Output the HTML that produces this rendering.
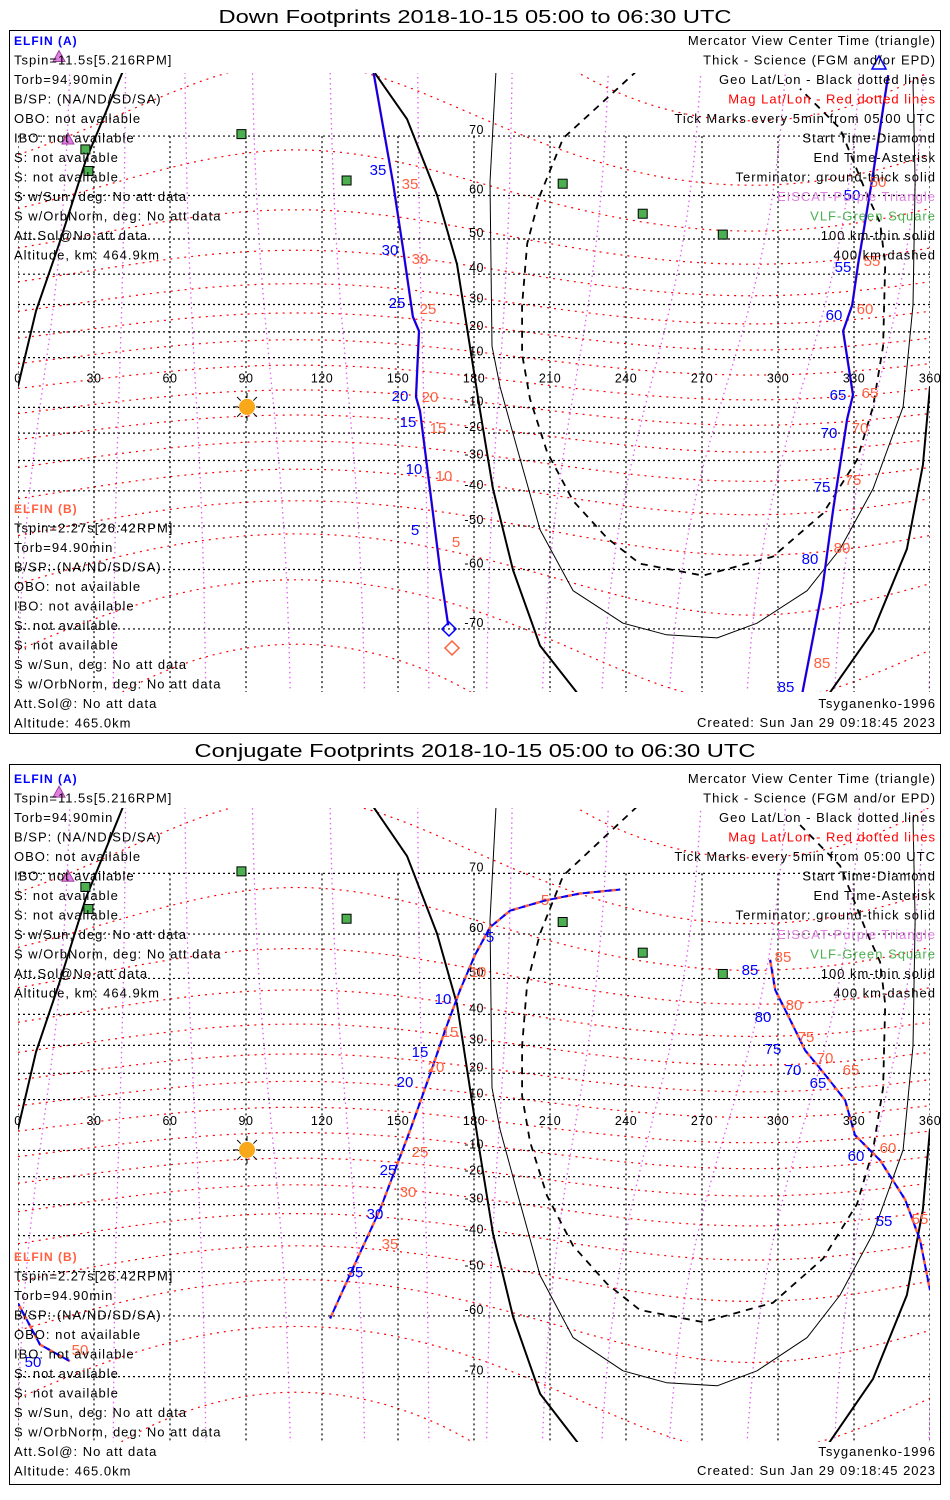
<!DOCTYPE html>
<html><head><meta charset="utf-8"><style>
html,body{margin:0;padding:0;background:#fff;width:950px;height:1500px;overflow:hidden}
svg{display:block}
text{font-family:"Liberation Sans",sans-serif}
.info{letter-spacing:1px}
</style></head><body>
<svg id="chart" width="950" height="1500" viewBox="0 0 950 1500" xmlns="http://www.w3.org/2000/svg">
</svg>
<script>
// ---------- data ----------
const latTicks = [-70,-60,-50,-40,-30,-20,-10,10,20,30,40,50,60,70];
const latTickLabels = ["-70","-60","-50","-40","-30","-20","-10","10","20","30","40","50","60","70"];
const lonTicks = [0,30,60,90,120,150,180,210,240,270,300,330,360];
const lonTickLabels = ["0","30","60","90","120","150","180","210","240","270","300","330","360"];

// Down footprint track (panel 1)
const downTrackLon1 = [140.2,148,152,155.9,158.3,157.1,158.7,162.6,166.6,169.8];
const downTrackLat1 = [77.3,62.6,47.3,25.6,20.3,-5.8,-11.4,-39.4,-60.1,-69.5];
const downTrackLon2 = [343.5,337.5,331.6,329.3,325.7,329.6,327.3,321.8,317.4,309.5];
const downTrackLat2 = [76.9,64,43,29.8,20.3,-5,-14.5,-45.4,-64,-77.3];

// Conjugate footprint track (panel 2)
const conjTrackLon1 = [123.2,131.9,142.9,154.8,162.6,168.6,174.5,180.4,186.3,194.2,208,221.9,237.7];
const conjTrackLat1 = [-60.5,-49.6,-31.7,-2,19.5,35,47,55.6,61.3,64.3,66,67.1,67.7];
const conjTrackLon2 = [296.9,298.9,304.8,310.7,318.6,326.5,330.4,340.3,350.2,356.1,360];
const conjTrackLat2 = [54.5,47,38.3,28.3,19.5,9.8,-4,-13.8,-28.3,-41.4,-54.5];
const conjTrackLon3 = [0,8.7,20.5];
const conjTrackLat3 = [-57.4,-65.2,-67.8];

// Terminators
const termGroundALon = [41.5,26.8,16.2,7.1,0];
const termGroundALat = [77.3,66.4,48.6,27.7,-1.5];
const termGroundBLon = [140.2,153.6,165.4,173.3,178.4,182.4,187.5,195.4,206.1,221.9];
const termGroundBLat = [77.3,72.2,60.1,43,14.5,-11.4,-39.4,-60.1,-72.2,-77.5];
const termGroundCLon = [319.4,337.5,350.9,357.2,360];
const termGroundCLat = [-77.5,-70.3,-55.6,-31.6,-1.5];
const term100Lon = [188.7,186.3,187.1,190.3,197,206.1,219.1,238.8,256,276,291.7,311.5,324.5,337.5,349.4,353.3,354.1,353.3];
const term100Lat = [77.3,62.6,14.5,-1.8,-25.6,-51,-64,-69.2,-70.8,-71.2,-69.2,-64,-55.6,-39.4,-9.8,29.8,62.6,76.4];
const term400Lon = [244.4,215.2,206.1,201,199,199,202.1,208.8,219.1,232.5,245.5,270.4,298,317.8,331.2,337.5,341.5,342.3,340.3,335.2,324.5,308.7];
const term400Lat = [77.3,69.7,60.1,48.8,29.8,11.4,-6.6,-26.9,-43,-53,-58.8,-61.2,-57.3,-46.6,-29.8,-9.8,14.5,43,54,60.1,71,75.6];

// Ground stations
const vlfLon = [88.4,26.8,28,129.9,215.2,246.8,278.4];
const vlfLat = [70.2,68,64.5,62.8,62.2,56,51];
const eiscatLon = [16.2,19.7];
const eiscatLat = [78.5,69.6];
const sunLon = [90.4];
const sunLat = [-9.8];

// ---------- drawing ----------
const NS="http://www.w3.org/2000/svg";
const svg=document.getElementById('chart');
function el(tag,attrs,parent){const e=document.createElementNS(NS,tag);for(const k in attrs)e.setAttribute(k,attrs[k]);(parent||svg).appendChild(e);return e;}
function X(lon){return 18+lon*912/360;}
function Y(p,lat){return p.eq - p.s*Math.log(Math.tan(Math.PI/4+lat*Math.PI/360));}
function pts(p,lons,lats){return lons.map((l,i)=>X(l).toFixed(1)+','+Y(p,lats[i]).toFixed(1)).join(' ');}
function txt(parent,x,y,s,opt){const t=el('text',Object.assign({x:x,y:y,'font-size':13,fill:'#000'},opt||{}),parent);t.textContent=s;return t;}

const panels=[
 {title:"Down Footprints 2018-10-15 05:00 to 06:30 UTC",ft:30,fb:733,eq:382.5,s:142,top:73,bot:692,off:0},
 {title:"Conjugate Footprints 2018-10-15 05:00 to 06:30 UTC",ft:764,fb:1484,eq:1125,s:145,top:808,bot:1442,off:738}
];

panels.forEach((p,pi)=>{
 const g=el('g',{});
 
 
 const tt=txt(g,475,p.ft-7,p.title,{'font-size':18,'text-anchor':'middle',textLength:pi===0?513:561,lengthAdjust:'spacingAndGlyphs'});
 
 
 const fr=el('rect',{x:9.5,y:p.ft+0.5,width:931,height:p.fb-p.ft,fill:'none',stroke:'#000','stroke-width':1},g);
 
 
 const cid='clip'+pi;
 const cp=el('clipPath',{id:cid},g);
 el('rect',{x:18,y:p.top,width:912,height:p.bot-p.top},cp);
 const m=el('g',{'clip-path':'url(#'+cid+')'},g);
 
 
 // magnetic longitude lines (violet dotted)
 for(let L=-20;L<=380;L+=30){
  const lons=[],lats=[];
  for(let la=-80;la<=80;la+=4){lons.push(L+0.2*la*Math.cos((L-290)*Math.PI/180)+0.1*la);lats.push(la);}
  const pl=el('polyline',{points:pts(p,lons,lats),fill:'none',stroke:'#e060f0','stroke-width':1.3,'stroke-dasharray':'1.5,3.5'},m);
  
  
 }
 // magnetic latitude lines (red dotted)
 for(let ml=-80;ml<=80;ml+=10){
  const lons=[],lats=[];
  const amp= Math.abs(ml)>=60?8:7;
  for(let lo=0;lo<=360;lo+=6){lons.push(lo);lats.push(ml-amp*Math.cos((lo-290)*Math.PI/180));}
  const pl=el('polyline',{points:pts(p,lons,lats),fill:'none',stroke:'#ff0000','stroke-width':1.2,'stroke-dasharray':'2,5'},m);
  
  
 }
 // geo grid
 latTicks.forEach((la,i)=>{
  const y=Y(p,la);
  const l=el('line',{x1:18,x2:930,y1:y,y2:y,stroke:'#000','stroke-width':1.2,'stroke-dasharray':'2,3'},m);
  
  
 });
 lonTicks.forEach((lo,i)=>{
  const x=X(lo);
  const l=el('line',{x1:x,x2:x,y1:Y(p,70),y2:p.bot,stroke:'#000','stroke-width':1.2,'stroke-dasharray':'2,3'},m);
  
  
 });
 // terminators
 [[termGroundALon,termGroundALat],[termGroundBLon,termGroundBLat],[termGroundCLon,termGroundCLat]].forEach(a=>{
  const pl=el('polyline',{points:pts(p,a[0],a[1]),fill:'none',stroke:'#000','stroke-width':2,'stroke-linejoin':'round'},m);
  
  
 });
 let pl=el('polyline',{points:pts(p,term100Lon,term100Lat),fill:'none',stroke:'#000','stroke-width':1,'stroke-linejoin':'round'},m);
 
 
 pl=el('polyline',{points:pts(p,term400Lon,term400Lat),fill:'none',stroke:'#000','stroke-width':1.8,'stroke-dasharray':'7,6','stroke-linejoin':'round'},m);
 
 
 // stations
 vlfLon.forEach((lo,i)=>{
  const r=el('rect',{x:X(lo)-5,y:Y(p,vlfLat[i])-5,width:9,height:9,fill:'#4caf50',stroke:'#000','stroke-width':1},m);
  
  
 });
 eiscatLon.forEach((lo,i)=>{
  const x=X(lo),y=Y(p,eiscatLat[i]);
  const t=el('polygon',{points:`${x-6},${y+5} ${x+6},${y+5} ${x},${y-6}`,fill:'#e080e0',stroke:'#a040a0','stroke-width':1},g);
  
  
 });
 // sun
 const sx=X(sunLon[0]),sy=Y(p,sunLat[0]);
 const sg=el('g',{},m);
 
 
 for(let a=0;a<360;a+=45){const r=a*Math.PI/180;el('line',{x1:sx+9*Math.cos(r),y1:sy+9*Math.sin(r),x2:sx+14*Math.cos(r),y2:sy+14*Math.sin(r),stroke:'#000','stroke-width':1},sg);}
 el('circle',{cx:sx,cy:sy,r:8,fill:'#f8a818'},sg);
 // tracks
 const tracks = pi===0 ? [[downTrackLon1,downTrackLat1],[downTrackLon2,downTrackLat2]] : [[conjTrackLon1,conjTrackLat1],[conjTrackLon2,conjTrackLat2],[conjTrackLon3,conjTrackLat3]];
 tracks.forEach(a=>{
  const r=el('polyline',{points:pts(p,a[0],a[1]),fill:'none',stroke:'#ff6040','stroke-width':2.5,'stroke-dasharray':pi===0?'none':'7,4'},m);
  
  
  const b=el('polyline',{points:pts(p,a[0],a[1]),fill:'none',stroke:'#0000ff','stroke-width':2,'stroke-dasharray':pi===0?'none':'7,4','stroke-dashoffset':pi===0?0:4},m);
  
  
 });
 // axis labels
 lonTicks.forEach((lo,i)=>{
  const t=txt(g,X(lo),p.eq,lonTickLabels[i],{'text-anchor':'middle','font-size':12.5,'letter-spacing':'0.5px'});
  
  
 });
 latTicks.forEach((la,i)=>{
  const t=txt(g,484,Y(p,la)-2,latTickLabels[i],{'text-anchor':'end','font-size':12.5,'letter-spacing':'0.5px'});
  
  
 });
});

// tick-mark labels on tracks (printed values)
const tickLabelsP1 = [
 ["35",378,175,"b"],["35",410,189,"r"],["30",390,255,"b"],["30",420,264,"r"],["25",397,308,"b"],["25",428,314,"r"],
 ["20",400,401,"b"],["20",430,402,"r"],["15",408,427,"b"],["15",438,433,"r"],["10",414,474,"b"],["10",444,481,"r"],
 ["5",415,535,"b"],["5",456,547,"r"],
 ["50",852,200,"b"],["50",878,187,"r"],["55",843,272,"b"],["55",872,266,"r"],["60",834,320,"b"],["60",865,314,"r"],
 ["65",838,400,"b"],["65",870,398,"r"],["70",829,438,"b"],["70",860,433,"r"],["75",822,492,"b"],["75",853,485,"r"],
 ["80",810,564,"b"],["80",842,553,"r"],["85",786,692,"b"],["85",822,668,"r"]
];
const tickLabelsP2 = [
 ["5",490,942,"b"],["5",545,905,"r"],["10",443,1004,"b"],["10",478,977,"r"],["15",420,1057,"b"],["15",450,1037,"r"],
 ["20",405,1087,"b"],["20",436,1072,"r"],["25",388,1175,"b"],["25",420,1157,"r"],["30",375,1219,"b"],["30",408,1197,"r"],
 ["35",355,1277,"b"],["35",390,1249,"r"],["50",33,1367,"b"],["50",80,1355,"r"],
 ["85",750,975,"b"],["85",783,962,"r"],["80",763,1022,"b"],["80",794,1010,"r"],["75",773,1054,"b"],["75",806,1042,"r"],
 ["70",793,1075,"b"],["70",825,1063,"r"],["65",818,1088,"b"],["65",851,1075,"r"],["60",856,1161,"b"],["60",888,1153,"r"],
 ["55",884,1226,"b"],["55",920,1224,"r"]
];
[tickLabelsP1,tickLabelsP2].forEach(arr=>arr.forEach(d=>{
 const t=txt(svg,d[1],d[2],d[0],{'font-size':15,'text-anchor':'middle',fill:d[3]==='b'?'#0000ff':'#ff6040'});
 
 
}));

// start markers, view-center triangle
let sm=el('polygon',{points:'449,622 456,629 449,636 442,629',fill:'none',stroke:'#0000ff','stroke-width':1.5});


sm=el('polygon',{points:'452,641 459,648 452,655 445,648',fill:'none',stroke:'#ff6040','stroke-width':1.5});


sm=el('polygon',{points:'872,69 886,69 879,56',fill:'none',stroke:'#0000ff','stroke-width':1.5});



// info text
const leftA=["Tspin=11.5s[5.216RPM]","Torb=94.90min","B/SP: (NA/ND/SD/SA)","OBO: not available","IBO: not available","S: not available","S: not available","S w/Sun, deg: No att data","S w/OrbNorm, deg: No att data","Att.Sol@No att data","Altitude, km: 464.9km"];
const leftB=["Tspin=2.27s[26.42RPM]","Torb=94.90min","B/SP: (NA/ND/SD/SA)","OBO: not available","IBO: not available","S: not available","S: not available","S w/Sun, deg: No att data","S w/OrbNorm, deg: No att data","Att.Sol@: No att data","Altitude: 465.0km"];
const rightLines=[["Mercator View Center Time (triangle)","#000"],["Thick - Science (FGM and/or EPD)","#000"],["Geo Lat/Lon - Black dotted lines","#000"],["Mag Lat/Lon - Red dotted lines","#ff0000"],["Tick Marks every 5min from 05:00 UTC","#000"],["Start Time-Diamond","#000"],["End Time-Asterisk","#000"],["Terminator: ground-thick solid","#000"],["EISCAT-Purple Triangle","#e080e0"],["VLF-Green Square","#4caf50"],["100 km-thin solid","#000"],["400 km-dashed","#000"]];
panels.forEach(p=>{
 const o=p.off, st=19.5;
 let t=txt(svg,14,45+o,"ELFIN (A)",{fill:'#0000ff','font-weight':'bold','font-size':12,'class':'info'});
 
 
 leftA.forEach((s,i)=>{const q=txt(svg,14,45+o+st*(i+1),s,{'class':'info'});
  
  });
 const bo = p.off===0?0:10;
 t=txt(svg,14,513+o+bo,"ELFIN (B)",{fill:'#ff6040','font-weight':'bold','font-size':12,'class':'info'});
 
 
 leftB.forEach((s,i)=>{const q=txt(svg,14,513+o+bo+st*(i+1),s,{'class':'info'});
  
  });
 rightLines.forEach((s,i)=>{const q=txt(svg,936,45+o+st*i,s[0],{'text-anchor':'end',fill:s[1],'class':'info'});
  
  });
 t=txt(svg,936,708+o+bo,"Tsyganenko-1996",{'text-anchor':'end','class':'info'});
 
 
 t=txt(svg,936,727+o+bo,"Created: Sun Jan 29 09:18:45 2023",{'text-anchor':'end','class':'info'});
 
 
});
</script>
</body></html>
